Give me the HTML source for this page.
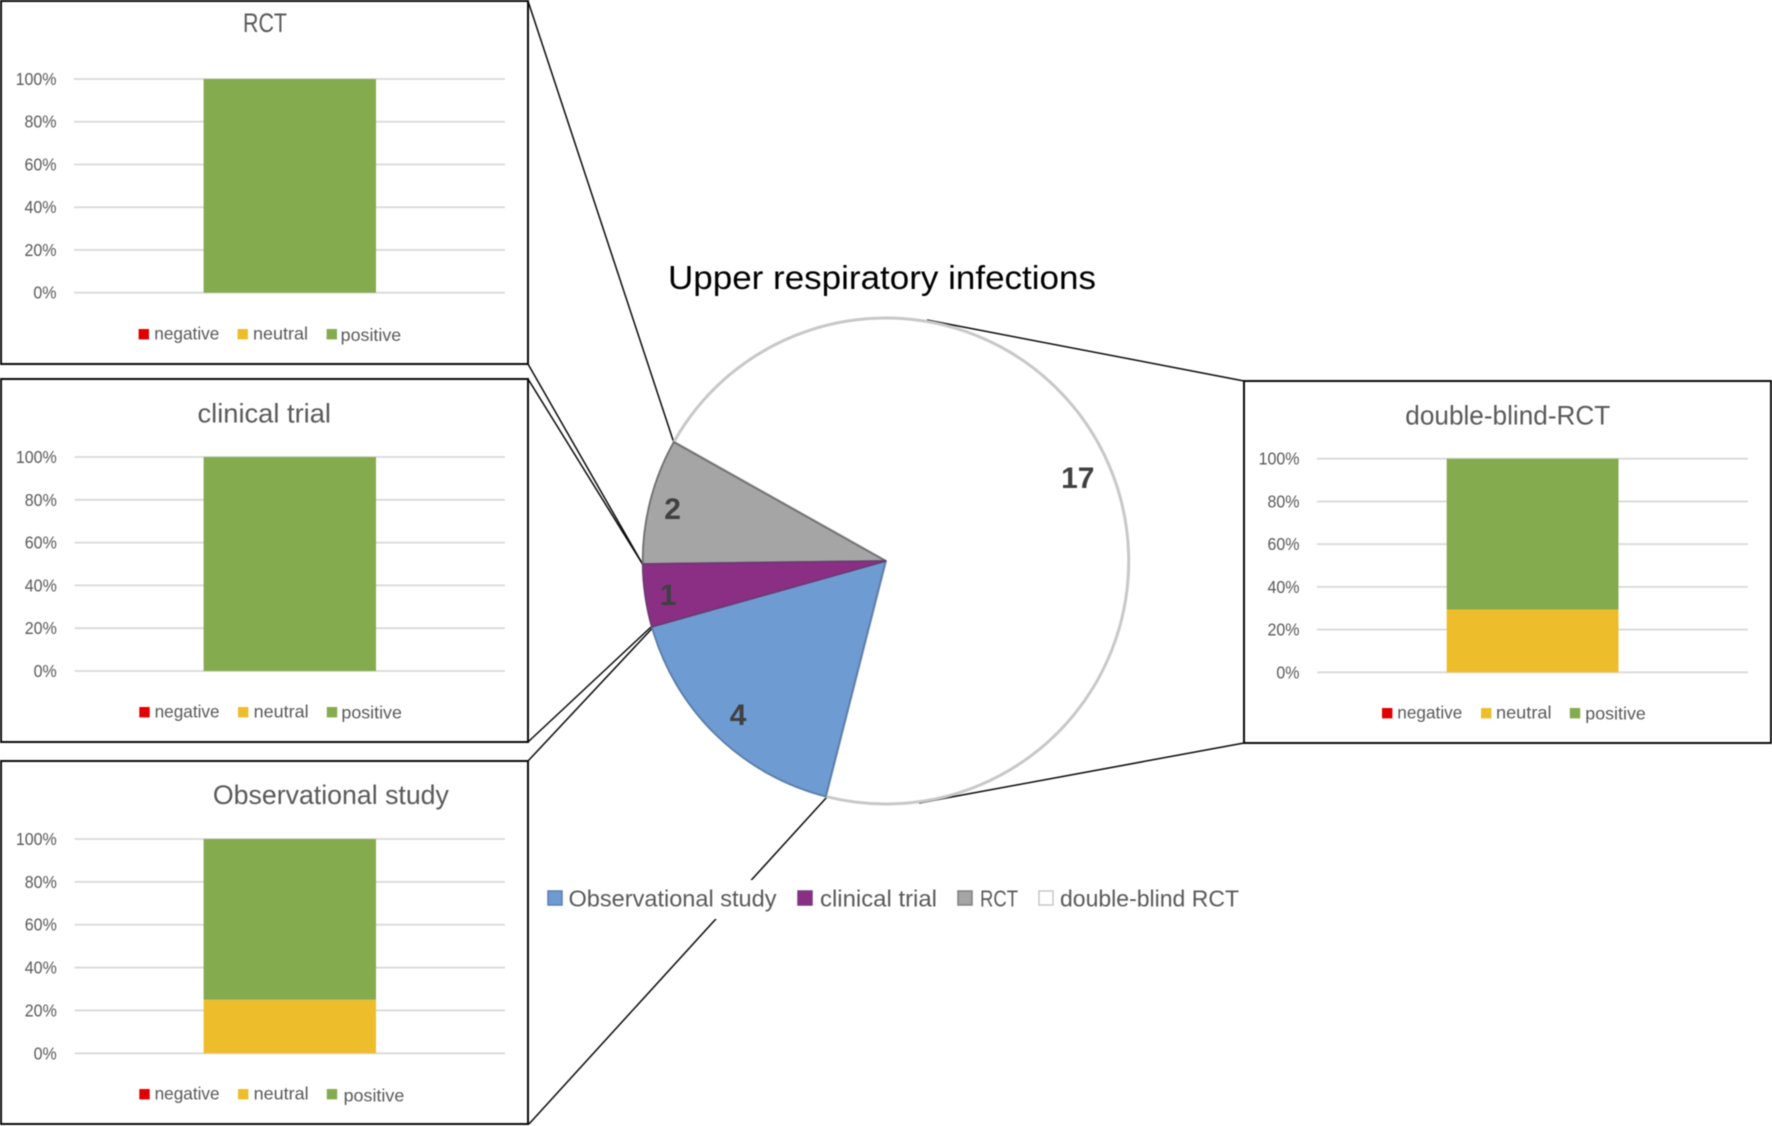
<!DOCTYPE html>
<html lang="en">
<head>
<meta charset="utf-8">
<title>Upper respiratory infections</title>
<style>
html,body{margin:0;padding:0;background:#fff;}
svg{display:block;font-family:"Liberation Sans",sans-serif;filter:blur(0.4px);}
</style>
</head>
<body>
<svg id="chart" xmlns="http://www.w3.org/2000/svg" width="1772" height="1126" viewBox="0 0 1772 1126">
  <rect x="0" y="0" width="1772" height="1126" fill="#ffffff"/>
  <g id="connectors" stroke="#0a0a0a" stroke-width="1.5" fill="none">
    <line x1="528" y1="1" x2="674" y2="443"/>
    <line x1="528" y1="364" x2="642.5" y2="564"/>
    <line x1="528" y1="379" x2="642.5" y2="564"/>
    <line x1="528" y1="742" x2="651" y2="627"/>
    <line x1="528" y1="761" x2="652.5" y2="628"/>
    <line x1="529" y1="1124" x2="827" y2="797"/>
    <line x1="1244" y1="381" x2="927" y2="320"/>
    <line x1="1244" y1="743" x2="919" y2="803"/>
  </g>
  <g id="pie"></g>
  <text x="668" y="289" font-size="33" fill="#000000" textLength="428" lengthAdjust="spacingAndGlyphs">Upper respiratory infections</text>
  <g font-size="23" fill="#595959">
    <rect x="540" y="880" width="705" height="39" fill="#ffffff"/>
    <rect x="548" y="891" width="14" height="14" fill="#6f9bd3" stroke="#5a80ad" stroke-width="1.5"/>
    <text x="568.5" y="906.3" textLength="208" lengthAdjust="spacingAndGlyphs">Observational study</text>
    <rect x="798" y="891" width="14" height="14" fill="#8b2f85" stroke="#6f3d78" stroke-width="1.5"/>
    <text x="820" y="906.3" textLength="117" lengthAdjust="spacingAndGlyphs">clinical trial</text>
    <rect x="958" y="891" width="14" height="14" fill="#a5a5a5" stroke="#808080" stroke-width="1.5"/>
    <text x="980" y="906.3" textLength="38" lengthAdjust="spacingAndGlyphs">RCT</text>
    <rect x="1039" y="891" width="14" height="14" fill="#ffffff" stroke="#c8c8c8" stroke-width="1.5"/>
    <text x="1060" y="906.3" textLength="179" lengthAdjust="spacingAndGlyphs">double-blind RCT</text>
  </g>
  <g id="panels"></g>
</svg>
<script>
// Pie data
const pieCategories = ['Observational study', 'clinical trial', 'RCT', 'double-blind RCT'];
const pieValues = [4, 1, 2, 17];
// Stacked bar data (percent)
const seriesNames = ['negative', 'neutral', 'positive'];
const tickValues = [0, 20, 40, 60, 80, 100];
const tickLabels = ['0%', '20%', '40%', '60%', '80%', '100%'];
const panelTitles = ['RCT', 'clinical trial', 'Observational study', 'double-blind-RCT'];
const rctShares = [0, 0, 100];
const clinicalShares = [0, 0, 100];
const observationalShares = [0, 25, 75];
const doubleBlindShares = [0, 29.4, 70.6];

const NS = 'http://www.w3.org/2000/svg';
function make(tag, attrs, parent, txt) {
  const el = document.createElementNS(NS, tag);
  for (const k in attrs) el.setAttribute(k, attrs[k]);
  if (txt !== undefined) el.textContent = txt;
  parent.appendChild(el);
  return el;
}

/* ---------- pie ---------- */
const pieCx = 885.7, pieCy = 561, pieR = 243, pieStart = 194.3;
const labelRatios = [0.87, 0.905, 0.905, 0.86];
const labelNudge = [12.5, 12.5, 12.5, 9.5];
const pieFills = ['#6f9bd3', '#8b2f85', '#a5a5a5', '#ffffff'];
const pieStrokes = ['#5a7da8', '#6b3a73', '#6f6f6f', '#c8c8c8'];
const pieTotal = pieValues.reduce((a, b) => a + b, 0);
function piePoint(deg, r) {
  const a = deg * Math.PI / 180;
  return [pieCx + r * Math.sin(a), pieCy - r * Math.cos(a)];
}
const pieGroup = document.getElementById('pie');
const sliceSpans = [];
let pieAngle = pieStart;
pieValues.forEach(function (v) {
  const sweep = v / pieTotal * 360;
  sliceSpans.push([pieAngle, sweep]);
  pieAngle += sweep;
});
[3, 2, 0, 1].forEach(function (i) {
  const a0 = sliceSpans[i][0], sweep = sliceSpans[i][1];
  const p0 = piePoint(a0, pieR), p1 = piePoint(a0 + sweep, pieR);
  const d = 'M' + pieCx + ' ' + pieCy + 'L' + p0[0] + ' ' + p0[1] +
    'A' + pieR + ' ' + pieR + ' 0 ' + (sweep > 180 ? 1 : 0) + ' 1 ' + p1[0] + ' ' + p1[1] + 'Z';
  const slice = make('path', { d: d, fill: pieFills[i], stroke: pieStrokes[i], 'stroke-width': i === 3 ? 3 : 1.8, 'stroke-linejoin': 'round' }, pieGroup);
  
  
  slice.setAttribute('aria-label', pieCategories[i]);
});
pieValues.forEach(function (v, i) {
  const mid = sliceSpans[i][0] + sliceSpans[i][1] / 2;
  const p = piePoint(mid, pieR * labelRatios[i]);
  const label = make('text', { x: p[0], y: p[1] + labelNudge[i], 'text-anchor': 'middle', 'font-size': 30, 'font-weight': 'bold', fill: '#404040' }, pieGroup, String(v));
  
  
});

/* ---------- stacked bar panels ---------- */
const barFills = ['#e00000', '#eebd2b', '#85ab4f'];
const tickFont = 17.5, tickWidthFont = 16;
const panelLayouts = [
  { shares: rctShares, box: [1, 1, 527, 363], y100: 79, y0: 292.7, plotX: [74, 505], barX: [203.6, 376], tickRight: 56.5,
    titleX: 243, titleW: 44, titleY: 32,
    swatchX: [138.6, 237.5, 326.6], swatchY: 329, textX: [154.3, 253, 340.7], textW: [65, 55, 60.5], textY: [339.5, 339.5, 340.8] },
  { shares: clinicalShares, box: [1, 379, 527, 363], y100: 457, y0: 671, plotX: [74.6, 505], barX: [203.6, 376], tickRight: 56.8,
    titleX: 197.5, titleW: 133.5, titleY: 422.7,
    swatchX: [139.3, 238, 326.8], swatchY: 707, textX: [154.6, 253.6, 341.4], textW: [65, 55, 60.5], textY: [717.3, 717.3, 718.7] },
  { shares: observationalShares, box: [1, 761, 527, 363], y100: 839, y0: 1053.3, plotX: [74.6, 505], barX: [203.6, 376], tickRight: 56.8,
    titleX: 212.9, titleW: 236, titleY: 804,
    swatchX: [139.3, 238, 326.8], swatchY: 1089, textX: [154.6, 253.6, 343.6], textW: [65, 55, 60.7], textY: [1099.3, 1099.3, 1101.3] },
  { shares: doubleBlindShares, box: [1244, 381, 527, 362], y100: 458.7, y0: 672.3, plotX: [1317, 1747.8], barX: [1446.7, 1618.5], tickRight: 1299.5,
    titleX: 1405.3, titleW: 205, titleY: 424.3,
    swatchX: [1382, 1481, 1569.8], swatchY: 708, textX: [1397.3, 1496, 1585.3], textW: [65, 55.5, 60.5], textY: [718.3, 718.3, 719.5] }
];
const panelsRoot = document.getElementById('panels');
panelLayouts.forEach(function (cfg, pi) {
  const g = make('g', {}, panelsRoot);
  
  
  const yScale = function (v) { return cfg.y0 - v / 100 * (cfg.y0 - cfg.y100); };

  const frame = make('rect', { x: cfg.box[0], y: cfg.box[1], width: cfg.box[2], height: cfg.box[3], fill: '#ffffff', stroke: '#0a0a0a', 'stroke-width': 2 }, g);
  
  

  const title = make('text', { x: cfg.titleX, y: cfg.titleY, 'font-size': 27, fill: '#595959', textLength: cfg.titleW, lengthAdjust: 'spacingAndGlyphs' }, g, panelTitles[pi]);
  
  

  tickValues.forEach(function (t, ti) {
    const y = yScale(t);
    const grid = make('line', { x1: cfg.plotX[0], x2: cfg.plotX[1], y1: y, y2: y, stroke: '#d9d9d9', 'stroke-width': 1.8 }, g);
    
    
    const tick = make('text', { x: cfg.tickRight, y: y + 6, 'text-anchor': 'end', 'font-size': tickFont, fill: '#595959' }, g, tickLabels[ti]);
    
    
    tick.setAttribute('textLength', tick.getComputedTextLength() * tickWidthFont / tickFont);
    tick.setAttribute('lengthAdjust', 'spacingAndGlyphs');
  });

  let cum = 0;
  cfg.shares.forEach(function (share, si) {
    if (share > 0) {
      const top = yScale(cum + share), bottom = yScale(cum);
      const seg = make('rect', { x: cfg.barX[0], y: top, width: cfg.barX[1] - cfg.barX[0], height: bottom - top, fill: barFills[si] }, g);
      
      
    }
    cum += share;
  });

  seriesNames.forEach(function (name, si) {
    const sw = make('rect', { x: cfg.swatchX[si], y: cfg.swatchY, width: 10.4, height: 10.4, fill: barFills[si] }, g);
    
    
    const lab = make('text', { x: cfg.textX[si], y: cfg.textY[si], 'font-size': 17.5, fill: '#595959', textLength: cfg.textW[si], lengthAdjust: 'spacingAndGlyphs' }, g, name);
    
    
  });
});
</script>
</body>
</html>
